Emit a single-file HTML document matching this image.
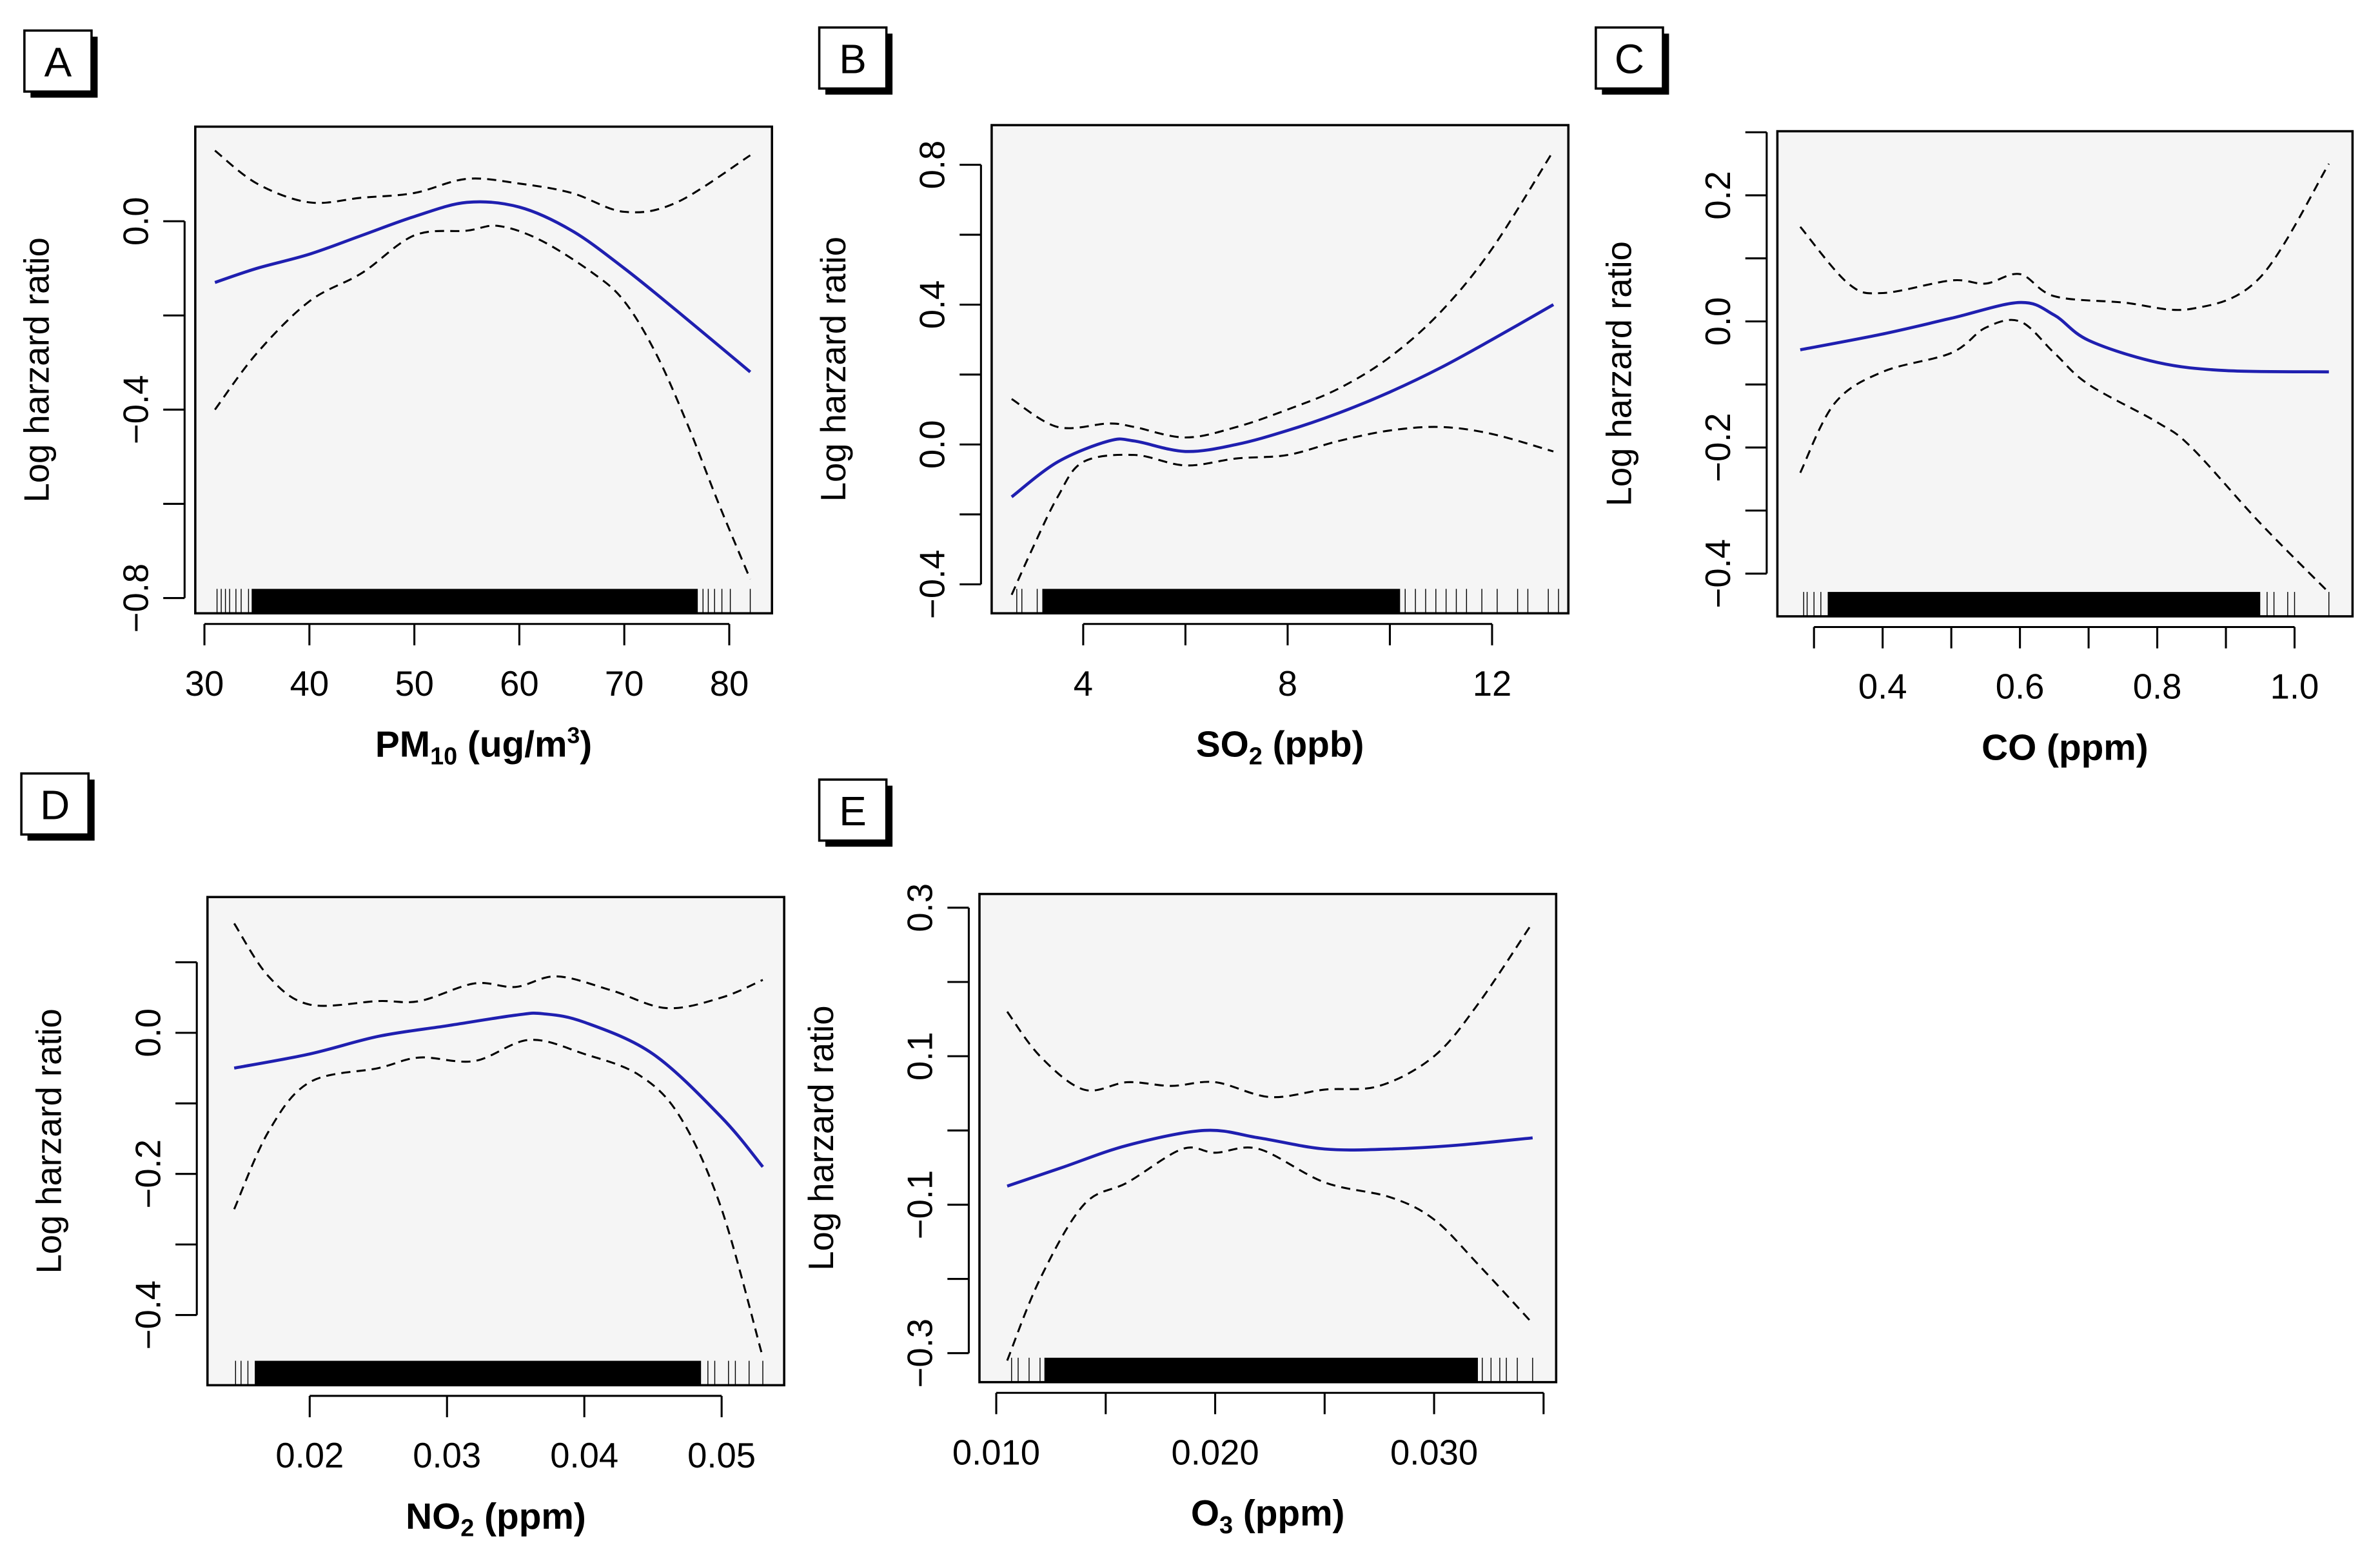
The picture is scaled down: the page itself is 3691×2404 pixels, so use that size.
<!DOCTYPE html>
<html><head><meta charset="utf-8"><style>
html,body{margin:0;padding:0;background:#fff;}
svg{display:block;font-family:"Liberation Sans",sans-serif;}
</style></head><body>
<svg id="fig" width="3691" height="2404" viewBox="0 0 1560 1016" xmlns="http://www.w3.org/2000/svg"></svg>
<script>
// Panel A data (PM10)
const aX=[31,35,40,45,50,55,60,65,70,75,82];
const aFit=[-0.13,-0.10,-0.07,-0.03,0.01,0.04,0.03,-0.02,-0.10,-0.19,-0.32];
const aHiX=[31,35,40,45,50,55,60,65,70,75,82];
const aHi=[0.15,0.08,0.04,0.05,0.06,0.09,0.08,0.06,0.02,0.04,0.14];
const aLoX=[31,35,40,45,50,55,58,62,67,70,73,76,79,82];
const aLo=[-0.40,-0.28,-0.17,-0.11,-0.03,-0.02,-0.01,-0.04,-0.11,-0.17,-0.28,-0.43,-0.60,-0.76];
const aXTicks=[30,40,50,60,70,80];
const aYTicks=[0,-0.2,-0.4,-0.6,-0.8];
const aYLabels=["0.0","","−0.4","","−0.8"];
const aRug=[31.2,31.6,32,32.4,33,33.5,34.2,77.5,78,78.6,79.3,80.1,82];
// Panel B data (SO2)
const bX=[2.6,3.5,4.5,5,6,7,8,9,10,11,12,13.2];
const bFit=[-0.15,-0.05,0.01,0.01,-0.02,0.0,0.04,0.09,0.15,0.22,0.30,0.40];
const bHi=[0.13,0.05,0.06,0.05,0.02,0.05,0.10,0.16,0.25,0.38,0.56,0.84];
const bLoX=[2.6,3,3.5,4,5,6,7,8,9,10,11,12,13.2];
const bLo=[-0.43,-0.30,-0.15,-0.05,-0.03,-0.06,-0.04,-0.03,0.01,0.04,0.05,0.03,-0.02];
const bXTicks=[4,6,8,10,12];
const bXLabels=["4","","8","","12"];
const bYTicks=[0.8,0.6,0.4,0.2,0,-0.2,-0.4];
const bYLabels=["0.8","","0.4","","0.0","","−0.4"];
const bRug=[2.7,2.8,3.1,10.3,10.5,10.7,10.9,11.1,11.3,11.5,11.8,12.1,12.5,12.7,13.1,13.3];
// Panel C data (CO)
const cX=[0.28,0.4,0.5,0.6,0.65,0.7,0.8,0.9,1.05];
const cFit=[-0.045,-0.02,0.005,0.03,0.01,-0.03,-0.065,-0.078,-0.08];
const cHiX=[0.28,0.35,0.4,0.5,0.55,0.6,0.65,0.75,0.85,0.95,1.05];
const cHi=[0.15,0.06,0.045,0.065,0.06,0.075,0.04,0.03,0.02,0.07,0.25];
const cLoX=[0.28,0.33,0.4,0.5,0.55,0.6,0.65,0.7,0.8,0.85,0.95,1.05];
const cLo=[-0.24,-0.13,-0.08,-0.05,-0.01,0.0,-0.05,-0.10,-0.16,-0.20,-0.32,-0.43];
const cXTicks=[0.3,0.4,0.5,0.6,0.7,0.8,0.9,1.0];
const cXLabels=["","0.4","","0.6","","0.8","","1.0"];
const cYTicks=[0.3,0.2,0.1,0,-0.1,-0.2,-0.3,-0.4];
const cYLabels=["","0.2","","0.0","","−0.2","","−0.4"];
const cRug=[0.285,0.29,0.3,0.31,0.96,0.97,0.99,1.0,1.05];
// Panel D data (NO2)
const dX=[0.0145,0.02,0.025,0.03,0.035,0.037,0.04,0.045,0.05,0.053];
const dFit=[-0.05,-0.03,-0.005,0.01,0.025,0.027,0.015,-0.03,-0.12,-0.19];
const dHiX=[0.0145,0.017,0.02,0.025,0.028,0.032,0.035,0.038,0.042,0.046,0.05,0.053];
const dHi=[0.155,0.08,0.04,0.045,0.045,0.07,0.065,0.08,0.06,0.035,0.05,0.075];
const dLoX=[0.0145,0.017,0.02,0.025,0.028,0.032,0.036,0.04,0.044,0.047,0.05,0.053];
const dLo=[-0.25,-0.14,-0.07,-0.05,-0.035,-0.04,-0.01,-0.03,-0.06,-0.12,-0.25,-0.46];
const dXTicks=[0.02,0.03,0.04,0.05];
const dXLabels=["0.02","0.03","0.04","0.05"];
const dYTicks=[0.1,0,-0.1,-0.2,-0.3,-0.4];
const dYLabels=["","0.0","","−0.2","","−0.4"];
const dRug=[0.0146,0.015,0.0155,0.049,0.0495,0.0505,0.051,0.052,0.053];
// Panel E data (O3)
const eX=[0.0105,0.013,0.016,0.0195,0.022,0.025,0.028,0.031,0.0345];
const eFit=[-0.075,-0.05,-0.02,0.0,-0.01,-0.025,-0.025,-0.02,-0.01];
const eHiX=[0.0105,0.012,0.014,0.016,0.018,0.02,0.0225,0.025,0.0275,0.03,0.032,0.0345];
const eHi=[0.16,0.10,0.055,0.065,0.06,0.065,0.045,0.055,0.06,0.10,0.17,0.28];
const eLoX=[0.0105,0.012,0.014,0.016,0.0185,0.02,0.022,0.025,0.028,0.03,0.032,0.0345];
const eLo=[-0.31,-0.20,-0.10,-0.07,-0.025,-0.03,-0.025,-0.07,-0.09,-0.12,-0.18,-0.26];
const eXTicks=[0.010,0.015,0.020,0.025,0.030,0.035];
const eXLabels=["0.010","","0.020","","0.030",""];
const eYTicks=[0.3,0.2,0.1,0,-0.1,-0.2,-0.3];
const eYLabels=["0.3","","0.1","","−0.1","","−0.3"];
const eRug=[0.0107,0.011,0.0115,0.012,0.0322,0.0326,0.033,0.0333,0.0338,0.0345];

const NS="http://www.w3.org/2000/svg";
const svg=document.getElementById('fig');
function mk(tag,attrs,parent){const e=document.createElementNS(NS,tag);for(const k in attrs)e.setAttribute(k,attrs[k]);(parent||svg).appendChild(e);return e;}
function smooth(pts){let d="M"+pts[0][0]+","+pts[0][1];for(let i=0;i<pts.length-1;i++){const p0=pts[Math.max(0,i-1)],p1=pts[i],p2=pts[i+1],p3=pts[Math.min(pts.length-1,i+2)];
d+=" C"+(p1[0]+(p2[0]-p0[0])/6)+","+(p1[1]+(p2[1]-p0[1])/6)+" "+(p2[0]-(p3[0]-p1[0])/6)+","+(p2[1]-(p3[1]-p1[1])/6)+" "+p2[0]+","+p2[1];}return d;}

function panel(o){
  const g=mk('g',{});
  
  
  const sx=v=>o.px0+(v-o.x0)*(o.px1-o.px0)/(o.x1-o.x0);
  const sy=v=>o.py0+(v-o.y0)*(o.py1-o.py0)/(o.y1-o.y0);
  const lb=mk('g',{},g);
  
  
  mk('rect',{x:o.lx+4,y:o.ly+4,width:44,height:40,fill:'#000'},lb);
  mk('rect',{x:o.lx,y:o.ly,width:44,height:40,fill:'#fff',stroke:'#000','stroke-width':1.5},lb);
  const lt=mk('text',{x:o.lx+22,y:o.ly+30,'text-anchor':'middle','font-size':27},lb);lt.textContent=o.id;
  const bg=mk('rect',{x:o.bx0,y:o.by0,width:o.bx1-o.bx0,height:o.by1-o.by0,fill:'#f5f5f5'},g);
  
  
  const rug=mk('g',{stroke:'#000','stroke-width':0.6},g);
  
  
  const rx0=sx(o.dense[0]),rx1=sx(o.dense[1]);
  mk('rect',{x:rx0,y:o.by1-16,width:rx1-rx0,height:16,fill:'#000',stroke:'none'},rug);
  o.rug.forEach(v=>{mk('line',{x1:sx(v),x2:sx(v),y1:o.by1-16,y2:o.by1},rug);});
  const hi=mk('path',{d:smooth(o.hiX.map((x,i)=>[sx(x),sy(o.hi[i])])),fill:'none',stroke:'#000','stroke-width':1.3,'stroke-dasharray':'6,4'},g);
  
  
  const lo=mk('path',{d:smooth(o.loX.map((x,i)=>[sx(x),sy(o.lo[i])])),fill:'none',stroke:'#000','stroke-width':1.3,'stroke-dasharray':'6,4'},g);
  
  
  const fit=mk('path',{d:smooth(o.fx.map((x,i)=>[sx(x),sy(o.fit[i])])),fill:'none',stroke:'#1f1fb0','stroke-width':2},g);
  
  
  mk('rect',{x:o.bx0,y:o.by0,width:o.bx1-o.bx0,height:o.by1-o.by0,fill:'none',stroke:'#000','stroke-width':1.5},g);
  const xa=mk('g',{},g);
  
  
  const xt=o.xt.map(sx);
  mk('line',{x1:xt[0],x2:xt[xt.length-1],y1:o.by1+7,y2:o.by1+7,stroke:'#000','stroke-width':1.3},xa);
  o.xt.forEach((v,i)=>{mk('line',{x1:sx(v),x2:sx(v),y1:o.by1+7,y2:o.by1+21,stroke:'#000','stroke-width':1.3},xa);
    if(o.xl[i]){const t=mk('text',{x:sx(v),y:o.by1+54,'text-anchor':'middle','font-size':23},xa);t.textContent=o.xl[i];}});
  const xl=mk('text',{x:(o.bx0+o.bx1)/2,y:o.by1+94,'text-anchor':'middle','font-size':24,'font-weight':'bold'},g);
  
  
  xl.innerHTML=o.xtitle;
  const ya=mk('g',{},g);
  
  
  const yt=o.yt.map(sy);
  mk('line',{x1:o.bx0-7,x2:o.bx0-7,y1:yt[0],y2:yt[yt.length-1],stroke:'#000','stroke-width':1.3},ya);
  o.yt.forEach((v,i)=>{mk('line',{x1:o.bx0-7,x2:o.bx0-21,y1:sy(v),y2:sy(v),stroke:'#000','stroke-width':1.3},ya);
    if(o.yl[i]){const t=mk('text',{x:0,y:0,'text-anchor':'middle','font-size':23,transform:'translate('+(o.bx0-31)+','+sy(v)+') rotate(-90)'},ya);t.textContent=o.yl[i];}});
  const yl=mk('text',{x:0,y:0,'text-anchor':'middle','font-size':23,transform:'translate('+(o.bx0-96)+','+((o.by0+o.by1)/2)+') rotate(-90)'},g);
  
  
  yl.textContent='Log harzard ratio';
}

panel({id:'A',lx:16,ly:20,bx0:128,bx1:506,by0:83,by1:402,x0:30,x1:80,px0:134,px1:478,y0:0,y1:-0.8,py0:145,py1:392,
  fx:aX,fit:aFit,hiX:aHiX,hi:aHi,loX:aLoX,lo:aLo,xt:aXTicks,xl:aXTicks.map(String),yt:aYTicks,yl:aYLabels,rug:aRug,dense:[34.5,77],
  xtitle:'PM<tspan font-size="16" dy="5">10</tspan><tspan dy="-5"> (ug/m</tspan><tspan font-size="15" dy="-9">3</tspan><tspan dy="9">)</tspan>'});
panel({id:'B',lx:537,ly:18,bx0:650,bx1:1028,by0:82,by1:402,x0:4,x1:12,px0:710,px1:978,y0:0.8,y1:-0.4,py0:108,py1:383,
  fx:bX,fit:bFit,hiX:bX,hi:bHi,loX:bLoX,lo:bLo,xt:bXTicks,xl:bXLabels,yt:bYTicks,yl:bYLabels,rug:bRug,dense:[3.2,10.2],
  xtitle:'SO<tspan font-size="16" dy="5">2</tspan><tspan dy="-5"> (ppb)</tspan>'});
panel({id:'C',lx:1046,ly:18,bx0:1165,bx1:1542,by0:86,by1:404,x0:0.4,x1:1.0,px0:1234,px1:1504,y0:0.2,y1:-0.4,py0:128,py1:376,
  fx:cX,fit:cFit,hiX:cHiX,hi:cHi,loX:cLoX,lo:cLo,xt:cXTicks,xl:cXLabels,yt:cYTicks,yl:cYLabels,rug:cRug,dense:[0.32,0.95],
  xtitle:'CO (ppm)'});
panel({id:'D',lx:14,ly:507,bx0:136,bx1:514,by0:588,by1:908,x0:0.02,x1:0.05,px0:203,px1:473,y0:0,y1:-0.4,py0:677,py1:862,
  fx:dX,fit:dFit,hiX:dHiX,hi:dHi,loX:dLoX,lo:dLo,xt:dXTicks,xl:dXLabels,yt:dYTicks,yl:dYLabels,rug:dRug,dense:[0.016,0.0485],
  xtitle:'NO<tspan font-size="16" dy="5">2</tspan><tspan dy="-5"> (ppm)</tspan>'});
panel({id:'E',lx:537,ly:511,bx0:642,bx1:1020,by0:586,by1:906,x0:0.010,x1:0.030,px0:653,px1:940,y0:0.3,y1:-0.3,py0:595,py1:887,
  fx:eX,fit:eFit,hiX:eHiX,hi:eHi,loX:eLoX,lo:eLo,xt:eXTicks,xl:eXLabels,yt:eYTicks,yl:eYLabels,rug:eRug,dense:[0.0122,0.032],
  xtitle:'O<tspan font-size="16" dy="5">3</tspan><tspan dy="-5"> (ppm)</tspan>'});
</script>
</body></html>
